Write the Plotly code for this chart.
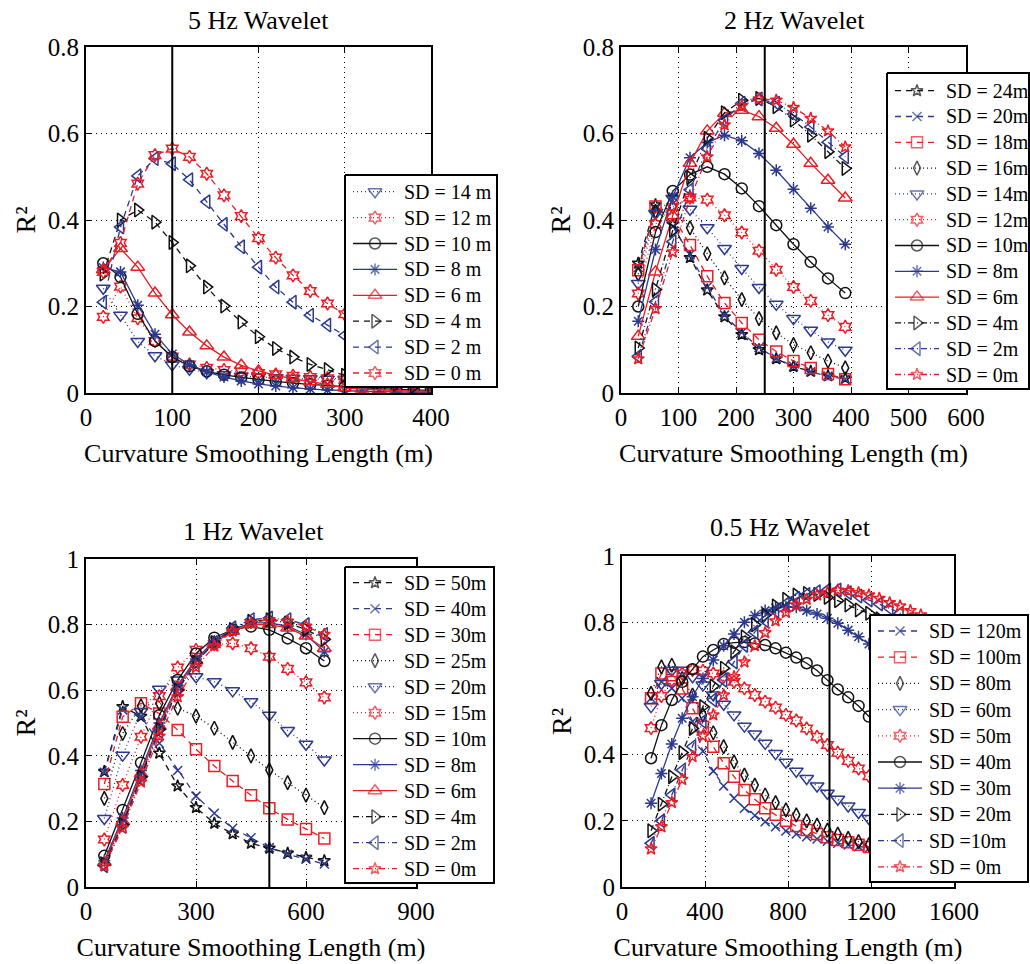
import plotly.graph_objects as go

# ---------------- data ----------------
# Panel 1: 5 Hz wavelet
p1_x = [20, 40, 60, 80, 100, 120, 140, 160, 180, 200, 220, 240, 260, 280, 300, 320, 340, 360, 380, 400]
p1_names = ["SD = 14 m", "SD = 12 m", "SD = 10 m", "SD = 8 m", "SD = 6 m", "SD = 4 m", "SD = 2 m", "SD = 0 m"]
p1_sd14 = [0.242, 0.18, 0.119, 0.086, 0.065, 0.055, 0.047, 0.042, 0.039, 0.037, 0.035, 0.034, 0.033, 0.032, 0.031, 0.03, 0.028, 0.026, 0.024, 0.022]
p1_sd12 = [0.176, 0.246, 0.173, 0.12, 0.084, 0.066, 0.058, 0.053, 0.049, 0.046, 0.043, 0.04, 0.037, 0.034, 0.031, 0.028, 0.026, 0.024, 0.022, 0.02]
p1_sd10 = [0.30, 0.268, 0.183, 0.12, 0.083, 0.062, 0.05, 0.042, 0.036, 0.031, 0.027, 0.023, 0.02, 0.017, 0.014, 0.012, 0.01, 0.008, 0.007, 0.006]
p1_sd8 = [0.29, 0.28, 0.203, 0.136, 0.09, 0.066, 0.049, 0.037, 0.028, 0.021, 0.016, 0.012, 0.009, 0.007, 0.005, 0.004, 0.003, 0.002, 0.002, 0.001]
p1_sd6 = [0.285, 0.334, 0.291, 0.231, 0.181, 0.141, 0.109, 0.083, 0.064, 0.051, 0.041, 0.033, 0.026, 0.02, 0.012, 0.009, 0.007, 0.005, 0.004, 0.003]
p1_sd4 = [0.275, 0.40, 0.423, 0.395, 0.348, 0.294, 0.245, 0.201, 0.164, 0.13, 0.103, 0.083, 0.066, 0.054, 0.041, 0.033, 0.026, 0.02, 0.015, 0.012]
p1_sd2 = [0.21, 0.384, 0.502, 0.542, 0.53, 0.493, 0.442, 0.39, 0.338, 0.291, 0.245, 0.21, 0.18, 0.157, 0.133, 0.115, 0.1, 0.085, 0.075, 0.065]
p1_sd0 = [0.28, 0.347, 0.484, 0.55, 0.565, 0.546, 0.507, 0.457, 0.409, 0.358, 0.313, 0.272, 0.236, 0.207, 0.182, 0.16, 0.14, 0.122, 0.106, 0.092]

# Panel 2: 2 Hz wavelet
p2_x = [30, 60, 90, 120, 150, 180, 210, 240, 270, 300, 330, 360, 390]
p2_names = ["SD = 24m", "SD = 20m", "SD = 18m", "SD = 16m", "SD = 14m", "SD = 12m",
            "SD = 10m", "SD = 8m", "SD = 6m", "SD = 4m", "SD = 2m", "SD = 0m"]
p2_sd24 = [0.30, 0.435, 0.39, 0.313, 0.238, 0.176, 0.135, 0.10, 0.079, 0.061, 0.05, 0.04, 0.034]
p2_sd20 = [0.29, 0.425, 0.385, 0.32, 0.245, 0.18, 0.14, 0.105, 0.08, 0.062, 0.049, 0.039, 0.032]
p2_sd18 = [0.284, 0.431, 0.41, 0.342, 0.27, 0.208, 0.162, 0.123, 0.096, 0.074, 0.058, 0.044, 0.032]
p2_sd16 = [0.275, 0.42, 0.43, 0.382, 0.322, 0.266, 0.216, 0.172, 0.139, 0.112, 0.093, 0.074, 0.058]
p2_sd14 = [0.253, 0.415, 0.45, 0.425, 0.382, 0.334, 0.288, 0.244, 0.205, 0.172, 0.145, 0.118, 0.099]
p2_sd12 = [0.23, 0.39, 0.43, 0.452, 0.447, 0.411, 0.371, 0.329, 0.285, 0.245, 0.213, 0.18, 0.153]
p2_sd10 = [0.20, 0.372, 0.467, 0.505, 0.523, 0.506, 0.473, 0.432, 0.388, 0.344, 0.303, 0.265, 0.231]
p2_sd8 = [0.166, 0.332, 0.454, 0.544, 0.579, 0.596, 0.583, 0.554, 0.515, 0.471, 0.427, 0.384, 0.344]
p2_sd6 = [0.131, 0.28, 0.41, 0.531, 0.606, 0.647, 0.654, 0.639, 0.612, 0.575, 0.531, 0.492, 0.451]
p2_sd4 = [0.104, 0.239, 0.376, 0.498, 0.589, 0.648, 0.677, 0.681, 0.662, 0.631, 0.596, 0.558, 0.519]
p2_sd2 = [0.085, 0.211, 0.35, 0.47, 0.565, 0.63, 0.67, 0.68, 0.67, 0.645, 0.615, 0.58, 0.546]
p2_sd0 = [0.079, 0.195, 0.326, 0.45, 0.546, 0.62, 0.664, 0.68, 0.677, 0.66, 0.635, 0.606, 0.569]

# Panel 3: 1 Hz wavelet
p3_x = [50, 100, 150, 200, 250, 300, 350, 400, 450, 500, 550, 600, 650]
p3_names = ["SD = 50m", "SD = 40m", "SD = 30m", "SD = 25m", "SD = 20m", "SD = 15m",
            "SD = 10m", "SD = 8m", "SD = 6m", "SD = 4m", "SD = 2m", "SD = 0m"]
p3_sd50 = [0.352, 0.55, 0.52, 0.408, 0.308, 0.242, 0.194, 0.162, 0.133, 0.118, 0.103, 0.09, 0.08]
p3_sd40 = [0.35, 0.54, 0.52, 0.438, 0.355, 0.277, 0.225, 0.179, 0.15, 0.12, 0.1, 0.085, 0.07]
p3_sd30 = [0.314, 0.519, 0.56, 0.529, 0.479, 0.42, 0.369, 0.323, 0.28, 0.24, 0.206, 0.177, 0.148]
p3_sd25 = [0.27, 0.468, 0.552, 0.56, 0.545, 0.521, 0.484, 0.441, 0.4, 0.357, 0.318, 0.28, 0.242]
p3_sd20 = [0.209, 0.402, 0.535, 0.603, 0.631, 0.641, 0.626, 0.598, 0.565, 0.524, 0.477, 0.435, 0.387]
p3_sd15 = [0.145, 0.311, 0.458, 0.582, 0.669, 0.723, 0.74, 0.743, 0.728, 0.702, 0.665, 0.624, 0.578]
p3_sd10 = [0.095, 0.235, 0.379, 0.524, 0.631, 0.712, 0.76, 0.785, 0.794, 0.784, 0.758, 0.728, 0.689]
p3_sd8 = [0.08, 0.21, 0.355, 0.5, 0.615, 0.695, 0.75, 0.785, 0.805, 0.805, 0.795, 0.77, 0.717]
p3_sd6 = [0.075, 0.2, 0.345, 0.49, 0.61, 0.69, 0.745, 0.78, 0.80, 0.80, 0.79, 0.765, 0.728]
p3_sd4 = [0.07, 0.19, 0.335, 0.48, 0.6, 0.685, 0.745, 0.785, 0.81, 0.815, 0.805, 0.785, 0.755]
p3_sd2 = [0.065, 0.185, 0.33, 0.475, 0.6, 0.685, 0.745, 0.79, 0.815, 0.82, 0.815, 0.80, 0.77]
p3_sd0 = [0.065, 0.18, 0.32, 0.46, 0.58, 0.67, 0.735, 0.78, 0.805, 0.815, 0.81, 0.795, 0.77]

# Panel 4: 0.5 Hz wavelet
p4_x = [140, 190, 240, 290, 340, 390, 440, 490, 540, 590, 640, 690, 740, 790, 840,
        890, 940, 990, 1040, 1090, 1140, 1190, 1240, 1290, 1340, 1390, 1440]
p4_names = ["SD = 120m", "SD = 100m", "SD = 80m", "SD = 60m", "SD = 50m",
            "SD = 40m", "SD = 30m", "SD = 20m", "SD =10m", "SD = 0m"]
p4_sd120 = [0.57, 0.62, 0.60, 0.57, 0.50, 0.41, 0.35, 0.305, 0.268, 0.238, 0.216, 0.197, 0.182, 0.169,
            0.16, 0.152, 0.145, 0.138, 0.132, 0.127, 0.122, 0.117, 0.113, 0.109, 0.105, 0.102, 0.099]
p4_sd100 = [0.57, 0.645, 0.64, 0.60, 0.54, 0.484, 0.424, 0.374, 0.333, 0.293, 0.265, 0.238, 0.218, 0.2,
            0.184, 0.172, 0.16, 0.15, 0.142, 0.135, 0.128, 0.121, 0.115, 0.11, 0.105, 0.1, 0.096]
p4_sd80 = [0.585, 0.665, 0.67, 0.63, 0.58, 0.52, 0.466, 0.424, 0.378, 0.338, 0.308, 0.278, 0.255, 0.233,
           0.218, 0.2, 0.187, 0.172, 0.16, 0.147, 0.137, 0.128, 0.12, 0.113, 0.107, 0.1, 0.095]
p4_sd60 = [0.545, 0.615, 0.655, 0.655, 0.635, 0.61, 0.58, 0.552, 0.52, 0.486, 0.462, 0.434, 0.403, 0.377,
           0.35, 0.328, 0.305, 0.283, 0.265, 0.245, 0.225, 0.207, 0.195, 0.185, 0.175, 0.165, 0.155]
p4_sd50 = [0.48, 0.577, 0.625, 0.645, 0.656, 0.653, 0.645, 0.635, 0.62, 0.6, 0.58, 0.56, 0.542, 0.52,
           0.503, 0.479, 0.454, 0.429, 0.406, 0.381, 0.358, 0.335, 0.315, 0.295, 0.275, 0.255, 0.24]
p4_sd40 = [0.389, 0.489, 0.565, 0.62, 0.658, 0.696, 0.716, 0.734, 0.738, 0.74, 0.736, 0.731, 0.721, 0.708,
           0.693, 0.676, 0.654, 0.625, 0.597, 0.573, 0.547, 0.515, 0.49, 0.46, 0.43, 0.40, 0.37]
p4_sd30 = [0.253, 0.343, 0.432, 0.51, 0.575, 0.63, 0.686, 0.729, 0.764, 0.80, 0.82, 0.835, 0.843, 0.847,
           0.845, 0.835, 0.825, 0.812, 0.797, 0.776, 0.756, 0.734, 0.71, 0.685, 0.66, 0.635, 0.61]
p4_sd20 = [0.17, 0.25, 0.333, 0.406, 0.479, 0.545, 0.607, 0.661, 0.711, 0.756, 0.792, 0.822, 0.849, 0.869,
           0.882, 0.887, 0.884, 0.875, 0.865, 0.852, 0.837, 0.827, 0.81, 0.79, 0.77, 0.75, 0.73]
p4_sd10 = [0.132, 0.2, 0.278, 0.353, 0.424, 0.5, 0.565, 0.625, 0.68, 0.73, 0.77, 0.805, 0.834, 0.855,
           0.872, 0.884, 0.892, 0.897, 0.897, 0.889, 0.879, 0.867, 0.855, 0.842, 0.827, 0.81, 0.79]
p4_sd0 = [0.115, 0.182, 0.255, 0.325, 0.394, 0.456, 0.52, 0.58, 0.635, 0.68, 0.729, 0.768, 0.804, 0.829,
          0.852, 0.869, 0.882, 0.889, 0.897, 0.895, 0.889, 0.882, 0.872, 0.859, 0.849, 0.835, 0.822]

titles = ["5 Hz Wavelet", "2 Hz Wavelet", "1 Hz Wavelet", "0.5 Hz Wavelet"]
x_title = "Curvature Smoothing Length (m)"
y_title = "R²"
ref_lengths = [100, 250, 500, 1000]          # vertical reference lines
x_ranges = [[0, 400], [0, 600], [0, 900], [0, 1600]]
x_dticks = [100, 100, 300, 400]
y_ranges = [[0, 0.8], [0, 0.8], [0, 1], [0, 1]]

# ---------------- styles ----------------
BLUE = "#2b3990"
RED = "#ed1c24"
BLACK = "#111111"
DOT = "1px,3px"
DASH = "6px,5px"
DASHDOT = "6px,3px,1px,3px"
SOLID = "solid"
SYM = {"v": "triangle-down-open", "h": "hexagram-open", "o": "circle-open", "*": "asterisk-open",
       "^": "triangle-up-open", ">": "triangle-right-open", "<": "triangle-left-open",
       "p": "star-open", "x": "x-thin-open", "s": "square-open", "d": "diamond-tall-open"}
MSIZE = {"v": 12, "h": 10, "o": 11, "*": 10, "^": 12, ">": 12, "<": 12, "p": 9, "x": 9, "s": 11, "d": 10}

p1_styles = [(BLUE, DOT, "v"), (RED, DOT, "h"), (BLACK, SOLID, "o"), (BLUE, SOLID, "*"),
             (RED, SOLID, "^"), (BLACK, DASH, ">"), (BLUE, DASH, "<"), (RED, DASH, "h")]
p2_styles = [(BLACK, DASH, "p"), (BLUE, DASH, "x"), (RED, DASH, "s"), (BLACK, DOT, "d"),
             (BLUE, DOT, "v"), (RED, DOT, "h"), (BLACK, SOLID, "o"), (BLUE, SOLID, "*"),
             (RED, SOLID, "^"), (BLACK, DASHDOT, ">"), (BLUE, DASHDOT, "<"), (RED, DASHDOT, "p")]
p3_styles = p2_styles
p4_styles = [(BLUE, DASH, "x"), (RED, DASH, "s"), (BLACK, DOT, "d"), (BLUE, DOT, "v"),
             (RED, DOT, "h"), (BLACK, SOLID, "o"), (BLUE, SOLID, "*"), (BLACK, DASHDOT, ">"),
             (BLUE, DASHDOT, "<"), (RED, DASHDOT, "p")]

panels = [
    (p1_x, p1_names, [p1_sd14, p1_sd12, p1_sd10, p1_sd8, p1_sd6, p1_sd4, p1_sd2, p1_sd0], p1_styles),
    (p2_x, p2_names, [p2_sd24, p2_sd20, p2_sd18, p2_sd16, p2_sd14, p2_sd12, p2_sd10, p2_sd8,
                      p2_sd6, p2_sd4, p2_sd2, p2_sd0], p2_styles),
    (p3_x, p3_names, [p3_sd50, p3_sd40, p3_sd30, p3_sd25, p3_sd20, p3_sd15, p3_sd10, p3_sd8,
                      p3_sd6, p3_sd4, p3_sd2, p3_sd0], p3_styles),
    (p4_x, p4_names, [p4_sd120, p4_sd100, p4_sd80, p4_sd60, p4_sd50, p4_sd40, p4_sd30,
                      p4_sd20, p4_sd10, p4_sd0], p4_styles),
]

# ---------------- layout geometry (pixels) ----------------
W, H = 1030, 964
plot_px = [(86, 431, 47, 393), (621, 966, 47, 393), (86, 416, 559, 887), (622, 954, 556, 887)]
legend_box = [(345, 497, 175, 387), (887, 1029, 73, 389), (345, 494, 567, 883), (870, 1028, 615, 882)]
legend_first = [16.7, 17.7, 15.7, 16.0]
legend_step = [25.9, 25.8, 26.0, 26.2]
LEG_LINE = (8, 30, 52)   # sample line start, marker, end (px from box left)
LEG_TEXT = 57
title_px = [(258.5, 20), (794, 20), (253, 531), (790, 527)]

FONT = "Liberation Serif, Times New Roman, serif"

fig = go.Figure()
# data traces
for i, (xs, names, series, styles) in enumerate(panels):
    k = "" if i == 0 else str(i + 1)
    for name, ys, (col, dash, mk) in zip(names, series, styles):
        fig.add_trace(go.Scatter(
            x=xs, y=ys, name=name, mode="lines+markers", showlegend=False,
            xaxis="x" + k, yaxis="y" + k,
            line=dict(color=col, width=1.3, dash=dash),
            marker=dict(symbol=SYM[mk], size=MSIZE[mk], color=col,
                        line=dict(color=col, width=1.5)),
        ))

layout = dict(width=W, height=H, margin=dict(l=0, r=0, t=0, b=0, autoexpand=False),
              paper_bgcolor="white", plot_bgcolor="rgba(0,0,0,0)",
              font=dict(family=FONT, color="black", size=24), showlegend=False)
shapes = []
annotations = []
for i in range(4):
    k = "" if i == 0 else str(i + 1)
    x0, x1, y0, y1 = plot_px[i]
    axis_common = dict(showline=True, linecolor="black", linewidth=2, mirror="ticks",
                       ticks="inside", ticklen=6, tickwidth=1.2, tickcolor="black",
                       showgrid=True, gridcolor="black", gridwidth=1, griddash="1px,4px",
                       zeroline=False, automargin=False,
                       tickfont=dict(family=FONT, size=25, color="black"))
    layout["xaxis" + k] = dict(axis_common, domain=[x0 / W, x1 / W], anchor="y" + k,
                               range=x_ranges[i], dtick=x_dticks[i], tick0=0,
                               ticklabelstandoff=1,
                               title=dict(text=x_title, standoff=14,
                                          font=dict(family=FONT, size=26, color="black")))
    layout["yaxis" + k] = dict(axis_common, domain=[1 - y1 / H, 1 - y0 / H], anchor="x" + k,
                               range=y_ranges[i], dtick=0.2, tick0=0,
                               title=dict(text=y_title, standoff=4,
                                          font=dict(family=FONT, size=28, color="black")))
    shapes.append(dict(type="line", xref="x" + k, yref="y" + k + " domain",
                       x0=ref_lengths[i], x1=ref_lengths[i], y0=0, y1=1,
                       line=dict(color="black", width=2), layer="above"))
    tx, ty = title_px[i]
    annotations.append(dict(text=titles[i], x=tx / W, y=1 - ty / H, xref="paper", yref="paper",
                            showarrow=False, xanchor="center", yanchor="middle",
                            font=dict(family=FONT, size=26, color="black")))

# custom legends: one pixel-scaled subplot per panel, drawn above the data subplots
for i, (xs, names, series, styles) in enumerate(panels):
    n = 4 + i + 1
    kx, ky = "x%d" % n, "y%d" % n
    bx0, bx1, by0, by1 = legend_box[i]
    bw, bh = bx1 - bx0, by1 - by0
    px0, px1 = max(0, bx0 - 3), min(W, bx1 + 3)
    pt, pb = max(0, by0 - 3), min(H, by1 + 3)
    layout["xaxis%d" % n] = dict(domain=[px0 / W, px1 / W], range=[px0 - bx0, px1 - bx0],
                                 visible=False, anchor=ky, fixedrange=True)
    layout["yaxis%d" % n] = dict(domain=[1 - pb / H, 1 - pt / H], range=[pb - by0, pt - by0],
                                 visible=False, anchor=kx, fixedrange=True)
    fig.add_trace(go.Scatter(x=[0, bw, bw, 0, 0], y=[0, 0, bh, bh, 0], mode="lines",
                             fill="toself", fillcolor="white", line=dict(color="black", width=2),
                             xaxis=kx, yaxis=ky, showlegend=False, hoverinfo="skip"))
    for j, (name, (col, dash, mk)) in enumerate(zip(names, styles)):
        yc = legend_first[i] + j * legend_step[i]
        fig.add_trace(go.Scatter(
            x=list(LEG_LINE), y=[yc, yc, yc], mode="lines+markers", showlegend=False,
            xaxis=kx, yaxis=ky, hoverinfo="skip",
            line=dict(color=col, width=1.3, dash=dash),
            marker=dict(symbol=SYM[mk], size=[0, MSIZE[mk], 0], color=col,
                        line=dict(color=col, width=1.5)),
        ))
        annotations.append(dict(text=name, x=LEG_TEXT, y=yc, xref=kx, yref=ky,
                                showarrow=False, xanchor="left", yanchor="middle",
                                font=dict(family=FONT, size=20, color="black")))

layout["shapes"] = shapes
layout["annotations"] = annotations
fig.update_layout(**layout)
fig.write_html("out.html")
